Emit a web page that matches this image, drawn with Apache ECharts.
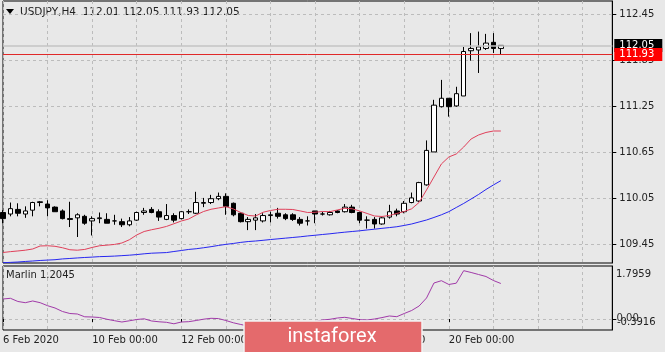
<!DOCTYPE html>
<html>
<head>
<meta charset="utf-8">
<title>USDJPY H4</title>
<script src="https://cdn.jsdelivr.net/npm/echarts@6.0.0/dist/echarts.min.js"></script>
<style>
  html, body { margin: 0; padding: 0; background: #e8e8e8; }
  #chart { width: 665px; height: 352px; }
</style>
</head>
<body>
<div id="chart"></div>
<script>
// H4 bars, first one is 6 Feb 2020 00:00
const opens = [109.87, 109.85, 109.91, 109.85, 109.90, 110.00, 109.98, 109.94, 109.89, 109.79,
  109.80, 109.82, 109.76, 109.79, 109.78, 109.76, 109.75, 109.71, 109.77, 109.87,
  109.91, 109.88, 109.78, 109.83, 109.79, 109.88, 109.86, 109.99, 110.00, 110.05,
  110.08, 109.99, 109.86, 109.75, 109.77, 109.76, 109.83, 109.86, 109.84, 109.84,
  109.78, 109.76, 109.89, 109.85, 109.84, 109.89, 109.88, 109.94, 109.87, 109.77,
  109.78, 109.72, 109.81, 109.89, 109.88, 110.00, 110.02, 110.23, 110.66, 111.25,
  111.36, 111.26, 111.39, 111.98, 111.99, 112.01, 112.09, 112.01]
const highs = [109.90, 110.00, 109.99, 109.95, 110.01, 110.02, 110.03, 109.95, 109.91, 110.01,
  109.86, 109.84, 109.82, 109.87, 109.86, 109.84, 109.79, 109.81, 109.88, 109.93,
  109.94, 109.91, 109.98, 109.86, 109.89, 109.91, 110.14, 110.06, 110.10, 110.13,
  110.12, 110.00, 109.87, 109.81, 109.85, 109.86, 109.88, 109.93, 109.86, 109.86,
  109.81, 109.82, 109.89, 109.88, 109.89, 109.90, 109.98, 109.97, 109.88, 109.82,
  109.81, 109.81, 109.97, 109.92, 110.02, 110.13, 110.27, 110.81, 111.34, 111.60,
  111.36, 111.51, 112.03, 112.21, 112.23, 112.20, 112.21, 112.05]
const lows = [109.73, 109.82, 109.82, 109.80, 109.82, 109.95, 109.82, 109.88, 109.78, 109.68,
  109.55, 109.71, 109.57, 109.73, 109.73, 109.71, 109.68, 109.69, 109.76, 109.84,
  109.86, 109.76, 109.77, 109.74, 109.78, 109.85, 109.85, 109.94, 109.98, 110.03,
  109.84, 109.82, 109.74, 109.64, 109.64, 109.74, 109.74, 109.79, 109.77, 109.76,
  109.70, 109.70, 109.73, 109.83, 109.83, 109.86, 109.87, 109.86, 109.73, 109.66,
  109.66, 109.71, 109.79, 109.82, 109.86, 109.99, 110.01, 110.22, 110.66, 111.24,
  111.12, 111.25, 111.39, 111.85, 111.69, 111.99, 111.95, 111.93]
const closes = [109.79, 109.92, 109.86, 109.89, 110.00, 110.01, 109.93, 109.88, 109.79, 109.78,
  109.84, 109.73, 109.79, 109.80, 109.73, 109.76, 109.71, 109.76, 109.87, 109.89,
  109.87, 109.81, 109.83, 109.77, 109.88, 109.88, 110.00, 110.00, 110.05, 110.08,
  109.95, 109.84, 109.75, 109.78, 109.80, 109.83, 109.84, 109.82, 109.79, 109.78,
  109.73, 109.76, 109.85, 109.85, 109.87, 109.87, 109.94, 109.87, 109.77, 109.77,
  109.72, 109.80, 109.88, 109.85, 109.99, 110.06, 110.26, 110.68, 111.27, 111.36,
  111.25, 111.42, 111.97, 112.01, 112.03, 112.08, 112.01, 112.05]

// moving averages on the price window
const redMa = [109.348, 109.359, 109.368, 109.378, 109.394, 109.433, 109.436, 109.429, 109.41, 109.384,
  109.378, 109.388, 109.414, 109.436, 109.444, 109.453, 109.472, 109.514, 109.577, 109.622,
  109.645, 109.664, 109.688, 109.723, 109.759, 109.785, 109.838, 109.883, 109.912, 109.929,
  109.946, 109.916, 109.87, 109.831, 109.824, 109.873, 109.896, 109.912, 109.912, 109.909,
  109.89, 109.87, 109.873, 109.883, 109.881, 109.903, 109.925, 109.918, 109.89, 109.857,
  109.824, 109.818, 109.831, 109.857, 109.883, 109.918, 110.001, 110.164, 110.333, 110.503,
  110.594, 110.633, 110.724, 110.829, 110.881, 110.914, 110.933, 110.933]
const blueMa = [109.215, 109.219, 109.224, 109.231, 109.237, 109.244, 109.249, 109.254, 109.264, 109.27,
  109.277, 109.283, 109.288, 109.294, 109.297, 109.301, 109.307, 109.313, 109.321, 109.331,
  109.339, 109.343, 109.347, 109.361, 109.374, 109.388, 109.397, 109.41, 109.424, 109.44,
  109.454, 109.466, 109.48, 109.491, 109.498, 109.507, 109.517, 109.526, 109.535, 109.544,
  109.553, 109.564, 109.573, 109.583, 109.592, 109.603, 109.613, 109.622, 109.631, 109.642,
  109.652, 109.663, 109.673, 109.684, 109.701, 109.72, 109.746, 109.772, 109.805, 109.84,
  109.881, 109.935, 109.988, 110.046, 110.105, 110.17, 110.229, 110.285]

// Marlin oscillator (lower window)
const marlin = [0.743, 0.770, 0.651, 0.606, 0.669, 0.606, 0.494, 0.409, 0.279, 0.204,
  0.186, 0.082, 0.074, 0.056, -0.011, -0.063, -0.112, -0.067, -0.019, 0.007,
  -0.074, -0.104, -0.123, -0.178, -0.112, -0.100, -0.056, -0.007, 0.026, 0.015,
  -0.056, -0.141, -0.204, -0.260, -0.316, -0.353, -0.3916, -0.342, -0.297, -0.260,
  -0.223, -0.167, -0.093, -0.037, -0.011, 0.037, 0.063, 0.019, -0.026, -0.037,
  0.0, 0.052, 0.112, 0.086, 0.204, 0.316, 0.483, 0.781, 1.338, 1.424,
  1.283, 1.331, 1.7959, 1.729, 1.654, 1.580, 1.431, 1.320]

const tickLabels = { 0: '6 Feb 2020', 12: '10 Feb 00:00', 24: '12 Feb 00:00', 36: '14 Feb 00:00', 48: '18 Feb 00:00', 60: '20 Feb 00:00' }
const priceTicks = [109.45, 110.05, 110.65, 111.25, 111.85, 112.45]
const bidPrice = 112.05
const levelPrice = 111.93
const slots = 83 // bars plus the empty space on the right

const FONT = 'DejaVu Sans'
const GRID_LINE = { color: '#bcbcbc', type: [3, 3], width: 1 }

const categories = []
for (let i = 0; i < slots; i++) categories.push(tickLabels[i] || String(i))
const candles = opens.map((o, i) => [o, closes[i], lows[i], highs[i]])

const isLabel = (idx) => tickLabels[idx] !== undefined

const chart = echarts.init(document.getElementById('chart'))
chart.setOption({
  backgroundColor: '#e8e8e8',
  animation: false,
  textStyle: { fontFamily: FONT },
  grid: [
    { left: 3, right: 52.7, top: 1, height: 262, show: true, borderColor: '#000', borderWidth: 1 },
    { left: 3, right: 52.7, top: 266, height: 64, show: true, borderColor: '#000', borderWidth: 1 }
  ],
  xAxis: [
    {
      type: 'category', gridIndex: 0, data: categories, boundaryGap: false,
      axisLine: { show: false }, axisTick: { show: false }, axisLabel: { show: false },
      splitLine: { show: true, interval: (i) => i % 6 === 0, lineStyle: GRID_LINE }
    },
    {
      type: 'category', gridIndex: 1, data: categories, boundaryGap: false,
      axisLine: { show: false },
      axisTick: { show: true, interval: isLabel, length: 3, lineStyle: { color: '#000' } },
      axisLabel: {
        interval: isLabel, formatter: (v, idx) => tickLabels[idx] || '',
        align: 'left', margin: 5, color: '#222', fontSize: 10, fontFamily: FONT
      },
      splitLine: { show: true, interval: (i) => i % 6 === 0, lineStyle: GRID_LINE }
    }
  ],
  yAxis: [
    {
      type: 'value', gridIndex: 0, position: 'right', min: 109.211, max: 112.629,
      axisLine: { show: true, lineStyle: { color: '#000' } },
      axisTick: { show: true, length: 4, customValues: priceTicks, lineStyle: { color: '#000' } },
      axisLabel: {
        customValues: priceTicks, formatter: (v) => v.toFixed(2),
        margin: 7, color: '#222', fontSize: 10, fontFamily: FONT
      },
      splitLine: { show: true, lineStyle: GRID_LINE }
    },
    {
      type: 'value', gridIndex: 1, position: 'right', min: -0.409, max: 1.97,
      axisLine: { show: true, lineStyle: { color: '#000' } },
      axisTick: { show: true, length: 4, customValues: [0], lineStyle: { color: '#000' } },
      axisLabel: { show: false },
      splitLine: { show: true, lineStyle: GRID_LINE }
    }
  ],
  series: [
    {
      type: 'candlestick', xAxisIndex: 0, yAxisIndex: 0, data: candles, barWidth: 5,
      itemStyle: { color: '#fff', color0: '#000', borderColor: '#000', borderColor0: '#000', borderColorDoji: '#000', borderWidth: 1 },
      markLine: {
        symbol: 'none', silent: true, animation: false,
        data: [
          {
            yAxis: bidPrice, lineStyle: { color: '#c4c4c4', width: 1.5, type: 'solid' },
            label: { position: 'end', distance: 2, formatter: bidPrice.toFixed(2), color: '#fff', backgroundColor: '#000', padding: [2, 8, 1, 5], fontSize: 10, fontFamily: FONT }
          },
          {
            yAxis: levelPrice, lineStyle: { color: '#e02828', width: 1, type: 'solid' },
            label: { position: 'end', distance: 2, formatter: levelPrice.toFixed(2), color: '#fff', backgroundColor: '#ff0000', padding: [2, 8, 1, 5], fontSize: 10, fontFamily: FONT }
          }
        ]
      }
    },
    {
      type: 'line', xAxisIndex: 0, yAxisIndex: 0, data: redMa, showSymbol: false,
      lineStyle: { color: '#e0405a', width: 1 }
    },
    {
      type: 'line', xAxisIndex: 0, yAxisIndex: 0, data: blueMa, showSymbol: false,
      lineStyle: { color: '#2626f0', width: 1 }
    },
    {
      type: 'line', xAxisIndex: 1, yAxisIndex: 1, data: marlin, showSymbol: false,
      lineStyle: { color: '#a03aa8', width: 1 }
    }
  ],
  graphic: [
    { type: 'polygon', shape: { points: [[6, 9], [14, 9], [10, 14]] }, style: { fill: '#000' } },
    {
      type: 'text', x: 20, y: 12,
      style: { text: 'USDJPY,H4  112.01 112.05 111.93 112.05', fontSize: 10.5, fontFamily: FONT, fill: '#222', verticalAlign: 'middle', textVerticalAlign: 'middle' }
    },
    {
      type: 'text', x: 6, y: 275,
      style: { text: 'Marlin 1.2045', fontSize: 10, fontFamily: FONT, fill: '#222', verticalAlign: 'middle', textVerticalAlign: 'middle' }
    },
    { type: 'text', x: 616, y: 274.5, style: { text: '1.7959', fontSize: 10, fontFamily: FONT, fill: '#222', verticalAlign: 'middle', textVerticalAlign: 'middle' } },
    { type: 'text', x: 616.5, y: 318.5, style: { text: '0.00', fontSize: 10, fontFamily: FONT, fill: '#333', verticalAlign: 'middle', textVerticalAlign: 'middle' } },
    { type: 'text', x: 617, y: 322.5, style: { text: '-0.3916', fontSize: 10, fontFamily: FONT, fill: '#222', verticalAlign: 'middle', textVerticalAlign: 'middle' } },
    // watermark
    { type: 'rect', z: 100, shape: { x: 244, y: 321, width: 178, height: 34 }, style: { fill: '#e46a6c', stroke: '#f2f2f2', lineWidth: 1.5 } },
    {
      type: 'text', z: 101, x: 332, y: 337,
      style: { text: 'instaforex', fontSize: 20, fontFamily: 'Roboto', fill: '#fff', align: 'center', textAlign: 'center', verticalAlign: 'middle', textVerticalAlign: 'middle' }
    }
  ]
})
</script>
</body>
</html>
